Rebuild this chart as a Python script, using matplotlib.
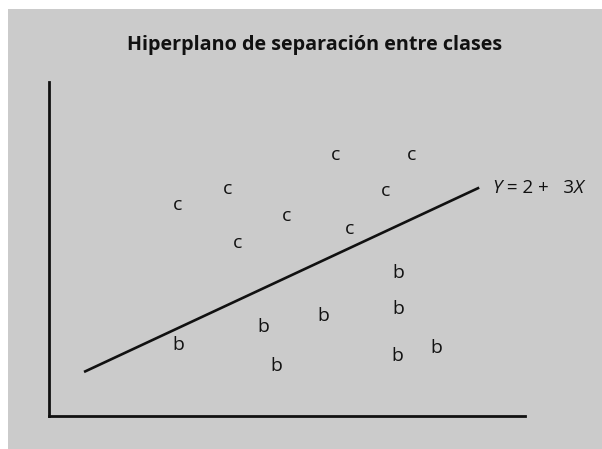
import matplotlib
matplotlib.use("Agg")
import matplotlib.pyplot as plt
from matplotlib.patches import Rectangle

plt.rcParams["font.family"] = ["Open Sans", "DejaVu Sans"]

# clase c (por encima del hiperplano)
c_x = [1.44, 2.00, 2.12, 2.66, 3.21, 4.07, 3.78, 3.37]
c_y = [15.2, 16.4, 12.5, 14.4, 18.8, 18.8, 16.2, 13.5]

# clase b (por debajo)
b_x = [1.45, 2.40, 2.55, 3.08, 3.92, 3.92, 3.91, 4.35]
b_y = [5.1, 6.4, 3.6, 7.2, 10.3, 7.7, 4.3, 4.9]

# hiperplano Y = 2 + 3X
line_x = [0.393, 4.826]
intercept, slope = 2, 3

title = "Hiperplano de separación entre clases"
# trozos de la etiqueta: (texto, cursiva)
label_parts = [("Y", True), (" = 2 +   3", False), ("X", True)]

W, H = 602, 449
fig = plt.figure(figsize=(W / 100, H / 100), dpi=100)
fig.patch.set_facecolor("white")
fig.patches.append(Rectangle((8 / W, 0), 1, 1 - 9 / H, transform=fig.transFigure,
                             facecolor="#cbcbcb", edgecolor="none", zorder=-5))

ax = fig.add_axes([49 / W, 1 - 416 / H, 476 / W, 334 / H])
ax.set_facecolor("none")
ax.set_xlim(0, 5.34)
ax.set_ylim(0, 24.1)
for s in ["top", "right"]:
    ax.spines[s].set_visible(False)
for s in ["left", "bottom"]:
    ax.spines[s].set_linewidth(2)
    ax.spines[s].set_color("#111111")
ax.set_xticks([])
ax.set_yticks([])

line_y = [intercept + slope * x for x in line_x]
ax.plot(line_x, line_y, color="#111111", lw=1.9, solid_capstyle="butt")

# etiqueta encadenada, cada trozo a la derecha del anterior
prev = None
for txt, ital in label_parts:
    style = "italic" if ital else "normal"
    if prev is None:
        prev = ax.text(line_x[1] + 0.15, line_y[1], txt, fontsize=13.5, fontstyle=style,
                       color="#111111", ha="left", va="center")
    else:
        prev = ax.annotate(txt, xy=(1, 0), xycoords=prev, fontsize=13.5, fontstyle=style,
                           color="#111111", ha="left", va="bottom")

for x, y in zip(c_x, c_y):
    ax.text(x, y, "c", fontsize=14, color="#111111", ha="center", va="center")
for x, y in zip(b_x, b_y):
    ax.text(x, y, "b", fontsize=14, color="#111111", ha="center", va="center")

fig.text(315 / W, 1 - 50 / H, title, fontsize=14.2, fontweight="bold",
         color="#111111", ha="center", va="baseline")

fig.savefig("out.png", dpi=100)
